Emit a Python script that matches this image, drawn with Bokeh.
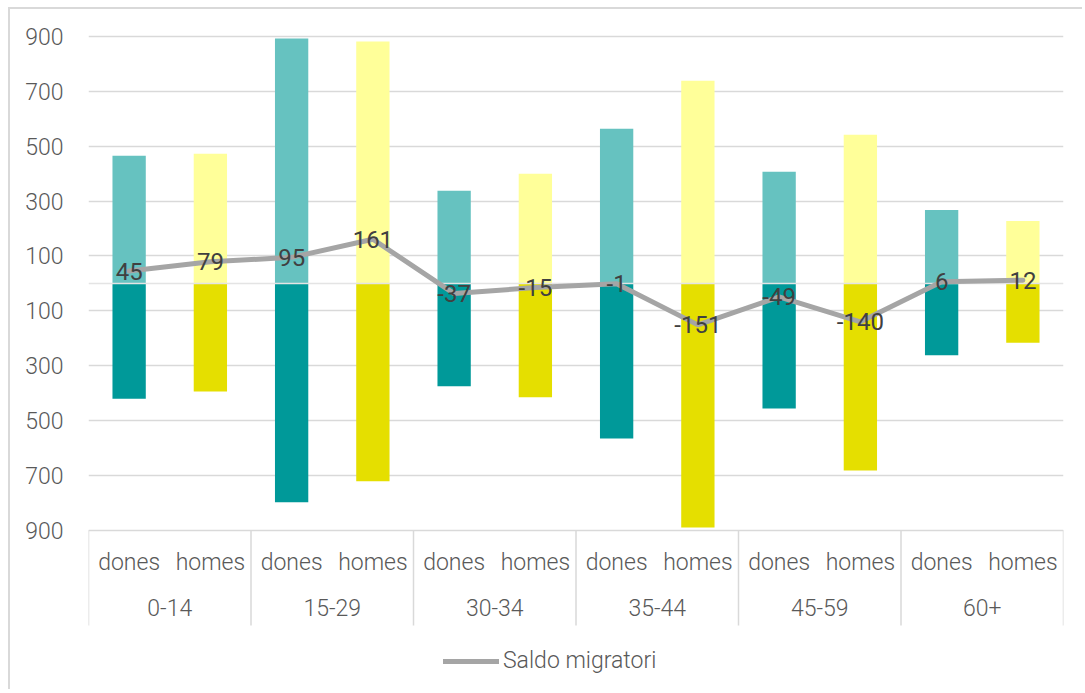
from bokeh.plotting import figure
from bokeh.models import (ColumnDataSource, FactorRange, Range1d, FixedTicker,
                          CustomJSTickFormatter, Legend, LegendItem)
from bokeh.core.properties import value
from bokeh.embed import file_html
from bokeh.resources import INLINE

# ---------------- data ----------------
groups = ["0-14", "15-29", "30-34", "35-44", "45-59", "60+"]
sexes = ["dones", "homes"]
immigracions = [465, 473, 893, 882, 338, 400, 564, 739, 407, 542, 268, 228]
emigracions = [420, 394, 798, 721, 375, 415, 565, 890, 456, 682, 262, 216]
saldo = [45, 79, 95, 161, -37, -15, -1, -151, -49, -140, 6, 12]
y_ticks = [-900, -700, -500, -300, -100, 100, 300, 500, 700, 900]

# ---------------- styles ----------------
FONT = "Roboto Light, Roboto"
LIGHT = {"dones": "#66C2C0", "homes": "#FFFF99"}
DARK = {"dones": "#009999", "homes": "#E5DF00"}
GRID = "#D9D9D9"
TXT = "#595959"
LBL_Y_SEX = -1017
LBL_Y_GROUP = -1181
SEP_BOTTOM = -1247

factors = [(g, s) for g in groups for s in sexes]
sex_list = [s for g in groups for s in sexes]

src = ColumnDataSource(dict(
    x=factors,
    imm=immigracions,
    em=[-e for e in emigracions],
    light=[LIGHT[s] for s in sex_list],
    dark=[DARK[s] for s in sex_list],
    saldo=saldo,
    saldo_txt=[str(v) for v in saldo],
    sex=sex_list,
))

x_range = FactorRange(factors=factors, group_padding=0, range_padding=0,
                      factor_padding=0)
p = figure(x_range=x_range, y_range=Range1d(-1440, 962),
           width=1074, height=682, output_backend="svg",
           toolbar_location=None, x_axis_location=None, title=None,
           min_border_left=78, min_border_right=21,
           min_border_top=10, min_border_bottom=13)
p.outline_line_color = None
p.background_fill_color = "white"
p.border_fill_color = "white"
p.styles = {"border-top": "2px solid #D9D9D9", "border-left": "2px solid #D9D9D9",
            "margin-left": "8px", "margin-top": "7px"}

# y axis
ax = p.yaxis[0]
ax.ticker = FixedTicker(ticks=y_ticks)
ax.formatter = CustomJSTickFormatter(code="return Math.abs(tick).toFixed(0);")
ax.axis_line_color = None
ax.major_tick_line_color = None
ax.minor_tick_line_color = None
ax.major_label_standoff = 19
ax.major_label_text_font = FONT
ax.major_label_text_font_size = "23px"
ax.major_label_text_color = TXT

p.xgrid.visible = False
p.ygrid.ticker = FixedTicker(ticks=y_ticks)
p.ygrid.grid_line_color = GRID
p.ygrid.grid_line_width = 1.5

# bars
p.vbar(x="x", top="imm", bottom=0, width=0.41, fill_color="light",
       line_color=None, source=src)
p.vbar(x="x", top=0, bottom="em", width=0.41, fill_color="dark",
       line_color=None, source=src)

# zero line
p.hspan(y=[0], line_color="#E4E4E4", line_width=1.5)

# category table: separators and labels
n = len(factors)
seps = list(range(0, n + 1, len(sexes)))
p.segment(x0=seps, x1=seps, y0=[-900] * len(seps), y1=[SEP_BOTTOM] * len(seps),
          line_color=GRID, line_width=1.5)
p.text(x="x", y=LBL_Y_SEX, text="sex", source=src, text_align="center",
       text_baseline="middle", text_font=value(FONT), text_font_size="23px",
       text_color=TXT)
p.text(x=groups, y=[LBL_Y_GROUP] * len(groups), text=groups, text_align="center",
       text_baseline="middle", text_font=value(FONT), text_font_size="23px",
       text_color=TXT)

# saldo line
line = p.line(x="x", y="saldo", source=src, line_color="#A5A5A5", line_width=5,
              line_cap="round", line_join="round")
p.text(x="x", y="saldo", text="saldo_txt", source=src, text_align="center",
       text_baseline="middle", text_font=value("Roboto"), text_font_size="24px",
       text_color="#404040")

legend = Legend(items=[LegendItem(label="Saldo migratori", renderers=[line])],
                location=(355, 4), orientation="horizontal")
legend.border_line_color = None
legend.background_fill_alpha = 0
legend.padding = 0
legend.margin = 0
legend.glyph_width = 56
legend.glyph_height = 20
legend.label_height = 20
legend.label_standoff = 4
legend.label_text_font = FONT
legend.label_text_font_size = "23px"
legend.label_text_color = TXT
p.add_layout(legend)

open("out.html", "w").write(file_html(p, INLINE))
